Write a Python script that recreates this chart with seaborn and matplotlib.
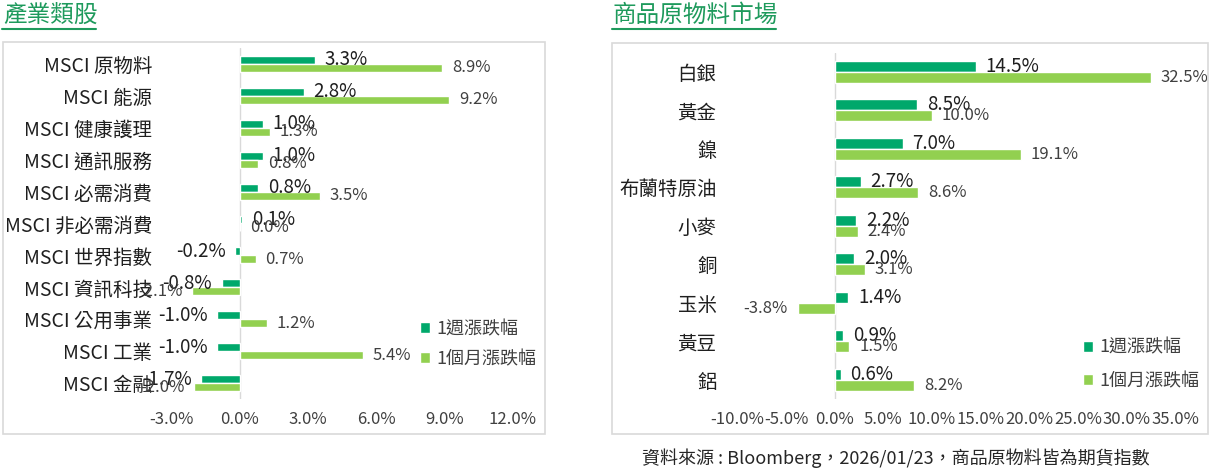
import matplotlib
matplotlib.use('Agg')
import matplotlib.pyplot as plt
from matplotlib.patches import Rectangle
from matplotlib.lines import Line2D
import pandas as pd
import seaborn as sns

# 產業類股
sectors = ['MSCI 原物料', 'MSCI 能源', 'MSCI 健康護理', 'MSCI 通訊服務', 'MSCI 必需消費',
           'MSCI 非必需消費', 'MSCI 世界指數', 'MSCI 資訊科技', 'MSCI 公用事業', 'MSCI 工業', 'MSCI 金融']
sector_week = [3.3, 2.8, 1.0, 1.0, 0.8, 0.1, -0.2, -0.8, -1.0, -1.0, -1.7]
sector_month = [8.9, 9.2, 1.3, 0.8, 3.5, 0.0, 0.7, -2.1, 1.2, 5.4, -2.0]

# 商品原物料市場
commodities = ['白銀', '黃金', '鎳', '布蘭特原油', '小麥', '銅', '玉米', '黃豆', '鋁']
comm_week = [14.5, 8.5, 7.0, 2.7, 2.2, 2.0, 1.4, 0.9, 0.6]
comm_month = [32.5, 10.0, 19.1, 8.6, 2.4, 3.1, -3.8, 1.5, 8.2]

periods = ['1週漲跌幅', '1個月漲跌幅']
sector_ticks = [-3, 0, 3, 6, 9, 12]
comm_ticks = [-10, -5, 0, 5, 10, 15, 20, 25, 30, 35]

WEEK_COLOR = '#00A86B'
MONTH_COLOR = '#92D050'
TITLE_COLOR = '#1E9A5C'
BOX_COLOR = '#D9D9D9'

sns.set_theme(style='white')
plt.rcParams['font.family'] = ['Noto Sans CJK TC', 'DejaVu Sans']


def make_frame(names, week, month):
    rows = []
    for n, w, m in zip(names, week, month):
        rows.append({'name': n, 'period': periods[0], 'value': w})
        rows.append({'name': n, 'period': periods[1], 'value': m})
    return pd.DataFrame(rows)


def draw_panel(ax, df, order, ticks, width, tick_pad, legend_anchor, legend_spacing):
    sns.barplot(data=df, x='value', y='name', hue='period', order=order,
                hue_order=periods, palette=[WEEK_COLOR, MONTH_COLOR],
                orient='h', width=width, errorbar=None, saturation=1, ax=ax)
    ax.axvline(0, color=BOX_COLOR, lw=1, zorder=0)
    ax.set_xlim(ticks[0], ticks[-1])
    ax.set_xticks(ticks)
    ax.set_xticklabels([f'{t:.1f}%' for t in ticks], fontsize=12, color='#404040')
    ax.set_xlabel('')
    ax.set_ylabel('')
    for s in ax.spines.values():
        s.set_visible(False)
    ax.tick_params(axis='y', length=0, pad=tick_pad, labelsize=14, labelcolor='#1f1f1f')
    ax.tick_params(axis='x', length=0, pad=9)

    fmt = lambda v: f'{v:.1f}%'
    ax.bar_label(ax.containers[0], fmt=fmt, padding=7, fontsize=13.5,
                 color='#1f1f1f')
    ax.bar_label(ax.containers[1], fmt=fmt, padding=7, fontsize=12,
                 color='#404040')

    leg = ax.legend(loc='center left', bbox_to_anchor=legend_anchor,
                    bbox_transform=ax.figure.transFigure, frameon=False,
                    fontsize=13, handlelength=0.55, handleheight=0.55,
                    handletextpad=0.35, labelspacing=legend_spacing,
                    borderpad=0, borderaxespad=0)
    for t in leg.get_texts():
        t.set_color('#404040')


fig = plt.figure(figsize=(12.11, 4.70), dpi=100)

# 外框
fig.patches.append(Rectangle((3 / 1211, 1 - 434 / 470), 542 / 1211, 392 / 470,
                             transform=fig.transFigure, fill=False,
                             edgecolor=BOX_COLOR, lw=1.2))
fig.patches.append(Rectangle((612 / 1211, 1 - 434 / 470), 596 / 1211, 391 / 470,
                             transform=fig.transFigure, fill=False,
                             edgecolor=BOX_COLOR, lw=1.2))

ax1 = fig.add_axes([0.1418, 0.1511, 0.2818, 0.7468])
draw_panel(ax1, make_frame(sectors, sector_week, sector_month), sectors,
           sector_ticks, 0.5, 14, (420 / 1211, 1 - 344 / 470), 0.68)

ax2 = fig.add_axes([0.6089, 0.1511, 0.3616, 0.7368])
draw_panel(ax2, make_frame(commodities, comm_week, comm_month), commodities,
           comm_ticks, 0.57, 15, (1083 / 1211, 1 - 364.5 / 470), 0.85)

# 標題
fig.text(3 / 1211, 1 - 15 / 470, '產業類股', fontsize=17, color=TITLE_COLOR,
         va='center', ha='left')
fig.lines.append(Line2D([2 / 1211, 96 / 1211], [1 - 29 / 470, 1 - 29 / 470],
                        transform=fig.transFigure, color=TITLE_COLOR, lw=1.5))
fig.text(612 / 1211, 1 - 15 / 470, '商品原物料市場', fontsize=17, color=TITLE_COLOR,
         va='center', ha='left')
fig.lines.append(Line2D([612 / 1211, 776 / 1211], [1 - 29 / 470, 1 - 29 / 470],
                        transform=fig.transFigure, color=TITLE_COLOR, lw=1.5))

fig.text(896 / 1211, 1 - 458 / 470,
         '資料來源 : Bloomberg，2026/01/23，商品原物料皆為期貨指數',
         fontsize=13, color='#262626', ha='center', va='center')

fig.savefig('out.png', dpi=100)
